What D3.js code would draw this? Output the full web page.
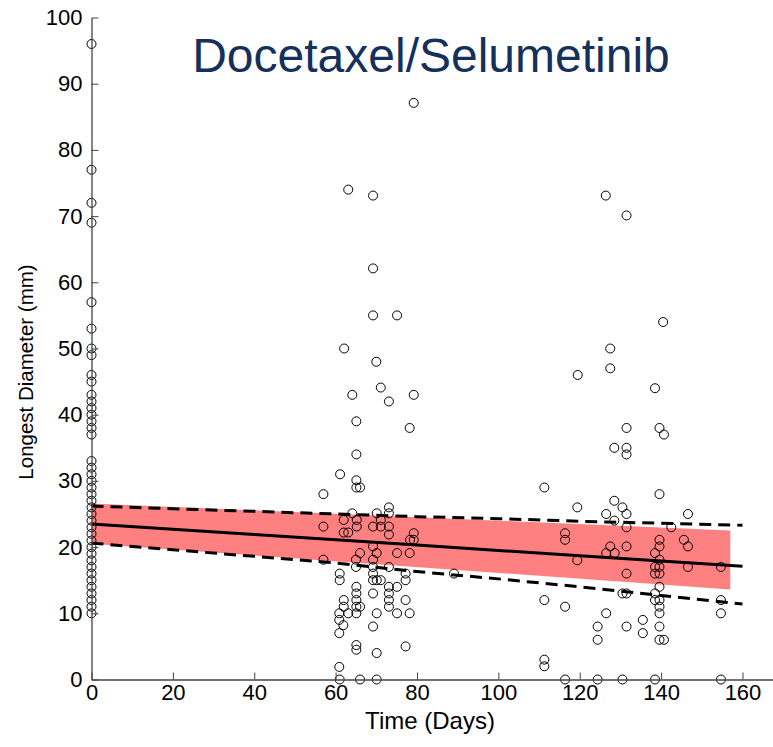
<!DOCTYPE html>
<html><head><meta charset="utf-8">
<script src="https://cdn.jsdelivr.net/npm/d3@7"></script>
<style>body{margin:0;background:#fff}svg{display:block}text{font-family:"Liberation Sans",Arial,sans-serif}</style>
</head><body><svg id="c" width="773" height="747"></svg>
<script>
// Observed tumour diameters: [day, mm]
const day0Values = [96,77,72,69,57,53,50,49,46,45,43,42,41,40,39,38,37,33,32,31,30,29,28,27,26,25,24,23,22,21,20,19,18,17,16,15,14,13,12,11,10];
const clusterA = [
 [79.2,87.1],[63.1,74],[69.2,73.1],[69.2,62.1],[69.2,55],[75.1,55],[62.1,50],[70,48],
 [64.1,43],[71.1,44.1],[73.1,42],[79.2,43],[65.1,39],[78.2,38],[65.1,34],[61.1,31],[65.1,30.1],
 [65.1,29],[66,29],[57,28],[73.1,26],[64.1,25.1],[70.1,25.1],[73.1,25.1],[62,24.1],[65.2,24.1],[71.1,24.1],
 [57,23.1],[65.2,23.1],[69.2,23.1],[71.1,23.1],[73.1,23.1],[62,22.2],[63.1,22.2],[73.1,21.9],[79.2,22.1],
 [78.3,21.1],[79.2,21.1],[69.2,20.1],[66,19.1],[70.1,19.1],[75.1,19.1],[78.2,19.1],[57,18.1],[65,18.1],[69.2,18.1],
 [65,17],[69.2,17],[73.1,17],[89.1,16],[61,16],[69.2,16],[77.2,16],[61,15],[69.2,15],[70.1,15],[71.1,15],[77.2,15],
 [65.1,14],[73.1,14],[75.1,14],[65.1,13],[69.2,13],[73.1,13],[65.1,12],[73.1,12],[77.2,12],[62,12],
 [65.1,11],[73.1,11],[62,11],[66,11],[65.1,10],[60.9,10],[63.1,10],[70.1,10],[75.1,10],[78.2,10],
 [60.9,9],[61.9,8.2],[69.2,8],[60.9,7],[65.1,5.2],[65.1,4.5],[70.1,4],[77.2,5],[60.9,1.9],[61,0],[66,0],[70.1,0]
];
const clusterB = [
 [126.4,73.1],[131.5,70.1],[140.5,54],[127.5,50],[127.5,47],[119.5,46],[138.5,44],
 [131.5,38],[139.6,38],[140.7,37],[128.5,35],[131.5,35],[131.5,34],[111.3,29],[139.6,28],
 [119.4,26],[128.5,27],[130.5,26],[126.5,25],[131.5,25],[146.6,25],[128.5,24],[131.5,23],[142.5,23],
 [116.4,22.1],[116.4,21.1],[139.6,21.1],[145.6,21.1],[127.5,20.1],[131.5,20.1],[139.6,20.1],[146.6,20.1],
 [126.5,19.1],[128.6,19.1],[138.5,19.1],[139.6,18.1],[119.4,18],[138.5,17],[139.6,17],[146.6,17],[154.7,17],
 [131.5,16],[138.5,16],[139.6,16],[139.6,14],[130.5,13],[131.5,13],[138.5,13],[111.3,12],[138.5,12],[139.6,12],
 [154.7,12],[116.4,11],[139.6,11],[126.5,10],[139.6,10],[154.7,10],[135.5,9],[124.4,8],[131.5,8],[139.6,8],
 [135.5,7],[124.4,6],[139.6,6],[140.7,6],[111.3,3],[111.3,2],[116.4,0],[124.4,0],[130.5,0],[138.5,0],[154.7,0]
];
// Model fit
const fitDays   = [0,20,40,60,80,100,120,140,160];
const fitMean   = [23.5,22.7,21.9,21.1,20.3,19.5,18.7,17.9,17.1];
const fitUpper  = [26.2,25.8,25.4,25.0,24.6,24.3,23.9,23.6,23.3];
const fitLower  = [20.6,19.6,18.6,17.6,16.3,15.2,14.0,12.7,11.4];
const bandDays  = [0,157];
const bandTop   = [26.6,22.5];
const bandBot   = [20.5,13.6];
const xTicks = [0,20,40,60,80,100,120,140,160];
const yTicks = [0,10,20,30,40,50,60,70,80,90,100];
const titleText = "Docetaxel/Selumetinib";

const svg = d3.select("#c");
const x = d3.scaleLinear().domain([0,167.5]).range([91.5,773]);
const y = d3.scaleLinear().domain([0,100]).range([679.5,17.5]);

// band
const bandPts = bandDays.map((d,i)=>[d,bandTop[i]]).concat(bandDays.map((d,i)=>[d,bandBot[i]]).reverse());
svg.append("path").attr("d", d3.line().x(d=>x(d[0])).y(d=>y(d[1]))(bandPts)+"Z").attr("fill","#ff8080");

const pts = day0Values.map(v=>[0,v]).concat(clusterA, clusterB);
svg.append("g").selectAll("circle").data(pts).join("circle")
  .attr("cx",d=>x(d[0])).attr("cy",d=>y(d[1])).attr("r",4.5)
  .attr("fill","none").attr("stroke","#000").attr("stroke-width",1);

const ln = d3.line().x((d,i)=>x(fitDays[i])).y(d=>y(d));
svg.append("path").attr("d",ln(fitMean)).attr("fill","none").attr("stroke","#000").attr("stroke-width",3);
[fitUpper,fitLower].forEach(a=>svg.append("path").attr("d",ln(a)).attr("fill","none")
  .attr("stroke","#000").attr("stroke-width",3).attr("stroke-dasharray","12,7"));

// axes
const gx = svg.append("g").attr("transform","translate(0,679.5)")
  .call(d3.axisBottom(x).tickValues(xTicks).tickSizeInner(-7).tickSizeOuter(0).tickPadding(5));
const gy = svg.append("g").attr("transform","translate(91.5,0)")
  .call(d3.axisLeft(y).tickValues(yTicks).tickSizeInner(-7).tickSizeOuter(0).tickPadding(9));
[gx,gy].forEach(g=>{
  g.select(".domain").attr("stroke","#444").attr("stroke-width",1.3);
  g.selectAll(".tick line").attr("stroke","#444");
  g.selectAll(".tick text").attr("fill","#000").style("font-size","22px");
});

svg.append("text").attr("x",430).attr("y",729).attr("text-anchor","middle").style("font-size","24px").text("Time (Days)");
svg.append("text").attr("transform","translate(33,372) rotate(-90)").attr("text-anchor","middle").style("font-size","20.5px").text("Longest Diameter (mm)");
svg.append("text").attr("x",431).attr("y",72).attr("text-anchor","middle").style("font-size","48px").attr("fill","#15305a").text(titleText);
</script></body></html>
